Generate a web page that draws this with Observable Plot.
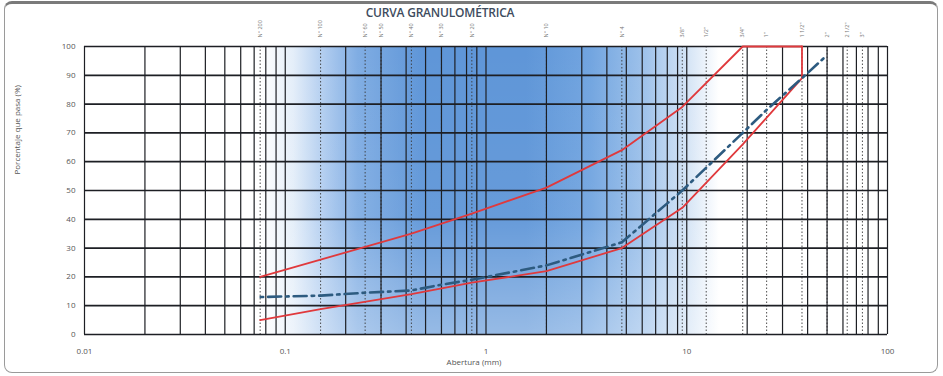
<!DOCTYPE html>
<html><head><meta charset="utf-8">
<script src="https://cdn.jsdelivr.net/npm/d3@7"></script>
<script src="https://cdn.jsdelivr.net/npm/@observablehq/plot@0.6"></script>
<style>
html,body{margin:0;padding:0;background:#fff;}
#wrap{position:relative;width:943px;height:376px;overflow:hidden;font-family:"Open Sans",sans-serif;}
#border{position:absolute;left:4px;top:1px;width:934px;height:372px;border:1.5px solid #9a9a9a;border-top:3px solid #7a7a7a;border-radius:8px;box-sizing:border-box;pointer-events:none;}
#title{position:absolute;top:4px;left:340px;width:200px;text-align:center;font-size:12px;font-weight:600;color:#3e4c5e;letter-spacing:-0.2px;}
#chart{position:absolute;left:0;top:0;}
</style></head><body>
<div id="wrap"><div id="chart"></div><div id="title">CURVA GRANULOMÉTRICA</div><div id="border"></div></div>
<script>
// Sieves (tamices)
const sieveNames = ["N° 200","N° 100","N° 60","N° 50","N° 40","N° 30","N° 20","N° 10","N° 4","3/8\"","1/2\"","3/4\"","1\"","1 1/2\"","2\"","2 1/2\"","3\""];
const sieveSizes = [0.075,0.15,0.25,0.3,0.425,0.6,0.85,2.0,4.75,9.5,12.5,19,25,37.5,50,63,75];

// Upper limit (red)
const upperX = [0.075,0.15,0.425,0.85,2,4.75,9.5,19,37.5];
const upperY = [20,26,35,42,51,64,79,100,100];

// Lower limit (red)
const lowerX = [0.075,0.15,0.425,0.85,2,4.75,9.5,19,37.5,37.5];
const lowerY = [5,8.8,14,18,22,30,44,66,89,100];

// Sample curve (blue dash-dot)
const sampleX = [0.075,0.15,0.25,0.425,0.6,0.85,2,4.75,9.5,19,25,37.5,50];
const sampleY = [13,13.5,14.5,15.3,17.3,19,24,32,50,70,78,89,97];

// Axis ticks
const xTicks = [0.01,0.1,1,10,100];
const xTickLabels = ["0.01","0.1","1","10","100"];
const yTicks = [0,10,20,30,40,50,60,70,80,90,100];

const zip = (xs, ys) => xs.map((x, i) => ({x, y: ys[i]}));
const upper = zip(upperX, upperY);
const lower = zip(lowerX, lowerY);
const sample = zip(sampleX, sampleY);
const sieves = sieveSizes.map((s, i) => ({s, name: sieveNames[i]}));
const gridX = d3.scaleLog().domain([0.01, 100]).ticks();

const svg = Plot.plot({
  width: 943, height: 376,
  marginLeft: 84, marginRight: 56, marginTop: 46, marginBottom: 42,
  style: {fontFamily: "Open Sans, sans-serif", fontSize: "8px", color: "#555", background: "transparent"},
  x: {type: "log", domain: [0.01, 100], ticks: xTicks, tickFormat: d => xTickLabels[xTicks.indexOf(d)], tickSize: 0, tickPadding: 14, label: null},
  y: {domain: [0, 100], ticks: yTicks, tickSize: 0, tickPadding: 9, label: null},
  marks: [
    Plot.frame({fill: "url(#bgGrad)", stroke: null}),
    Plot.frame({fill: "url(#fadeGrad)", stroke: null}),
    Plot.ruleX(sieveSizes, {stroke: "#3a3a3a", strokeWidth: 0.9, strokeDasharray: "1.5,2"}),
    Plot.ruleX(gridX, {stroke: "#1d1f24", strokeWidth: 1.2}),
    Plot.ruleY(yTicks, {stroke: "#1d1f24", strokeWidth: 1.7}),
    Plot.line(upper, {x: "x", y: "y", stroke: "#e0393c", strokeWidth: 1.8}),
    Plot.line(lower, {x: "x", y: "y", stroke: "#e0393c", strokeWidth: 1.8}),
    Plot.line(sample, {x: "x", y: "y", stroke: "#2d5b80", strokeWidth: 2.6, strokeDasharray: "13,5,2.5,5", strokeDashoffset: -8}),
    Plot.text(sieves, {x: "s", y: () => 100, text: "name", rotate: -90, textAnchor: "start", dy: -9, fontSize: 5.5, fill: "#777"}),
    Plot.text(["Porcentaje que pasa (%)"], {frameAnchor: "left", dx: -67, dy: -16, rotate: -90, fontSize: 8, fill: "#555"}),
    Plot.text(["Abertura (mm)"], {frameAnchor: "bottom", dx: -12, dy: 30, fontSize: 8, fill: "#555"})
  ]
});

const defs = d3.select(svg).insert("defs", ":first-child");
const g = defs.append("linearGradient").attr("id", "bgGrad").attr("x1", 0).attr("x2", 1).attr("y1", 0).attr("y2", 0);
[[0.22,"#ffffff"],[0.26,"#e4eef9"],[0.30,"#aecbef"],[0.34,"#80ade3"],[0.42,"#5f96d8"],[0.55,"#5f96d8"],[0.63,"#72a5e0"],[0.70,"#a0c3eb"],[0.75,"#d3e3f5"],[0.79,"#ffffff"]]
  .forEach(([o, c]) => g.append("stop").attr("offset", o).attr("stop-color", c));
const f = defs.append("linearGradient").attr("id", "fadeGrad").attr("x1", 0).attr("x2", 0).attr("y1", 0).attr("y2", 1);
[[0,"#ffffff",0],[0.6,"#ffffff",0.05],[1,"#ffffff",0.35]]
  .forEach(([o, c, a]) => f.append("stop").attr("offset", o).attr("stop-color", c).attr("stop-opacity", a));

document.getElementById("chart").appendChild(svg);
</script>
</body></html>
